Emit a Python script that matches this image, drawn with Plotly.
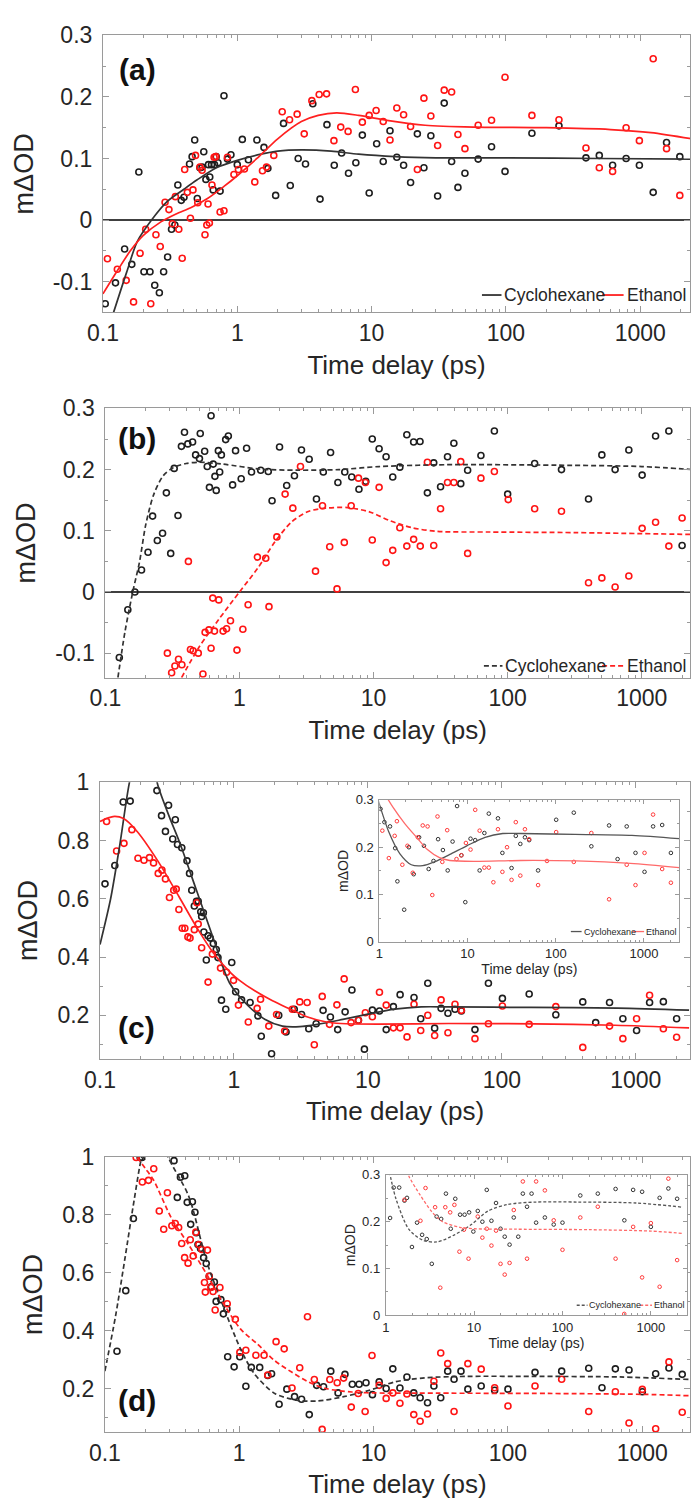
import plotly.graph_objects as go

# ---------------- data ----------------
# Panel (a): solid fits
a_cyc_t = [0.104,0.124,0.145,0.164,0.185,0.202,0.224,0.243,0.263,0.283,0.303,0.324,0.343,0.361,0.383,0.401,
           0.441,0.461,0.482,0.504,0.527,0.547,0.563,0.584,0.610,0.624,0.643,0.662,0.677,0.697,0.718,0.745,
           0.796,0.845,0.897,1.00,1.09,1.21,1.40,1.58,1.69,1.93,
           2.21,2.48,2.84,3.22,3.65,4.13,4.65,5.27,5.98,6.73,7.63,8.53,9.59,
           10.9,12.2,13.7,15.4,17.3,19.5,21.9,24.5,27.6,31.0,34.7,39.4,43.9,49.5,
           62.1,78.1,98.4,156,248,394,495,622,784,984,1247,1568,1968]
a_cyc_y = [-0.136,-0.102,-0.047,-0.072,0.078,-0.084,-0.084,-0.106,-0.118,-0.084,-0.060,-0.015,-0.008,0.057,0.032,0.037,
           0.091,0.103,0.130,0.035,0.085,0.086,0.111,0.066,0.090,0.070,0.090,0.049,0.090,0.103,0.093,0.047,
           0.202,0.099,0.106,0.090,0.131,0.098,0.130,0.118,0.084,0.040,
           0.157,0.056,0.100,0.091,0.189,0.034,0.155,0.089,0.109,0.076,0.093,0.138,0.044,
           0.124,0.095,0.145,0.102,0.089,0.061,0.140,0.085,0.137,0.039,0.190,0.095,0.053,0.076,
           0.099,0.119,0.079,0.141,0.153,0.101,0.105,0.089,0.100,0.089,0.045,0.126,0.103]
a_eth_t = [0.108,0.128,0.149,0.169,0.189,0.208,0.227,0.248,0.267,0.290,0.310,0.328,0.346,0.367,0.389,0.406,
           0.425,0.448,0.468,0.489,0.508,0.527,0.547,0.575,0.593,0.606,0.620,0.648,0.672,0.692,0.745,0.796,
           0.845,0.944,1.02,1.13,1.35,1.54,1.65,1.87,2.16,2.45,
           2.79,3.15,3.59,4.07,4.62,5.24,5.89,6.68,7.57,8.53,9.59,10.8,12.2,
           13.7,15.4,17.3,19.5,21.9,24.5,27.6,31.0,34.7,39.4,43.9,49.5,62.1,78.1,
           98.4,156,248,394,495,622,784,984,1247,1568,1968]
a_eth_y = [-0.063,-0.080,-0.098,-0.133,-0.054,-0.015,-0.136,-0.024,-0.043,0.029,0.017,-0.006,0.038,-0.015,-0.062,0.082,
           0.045,0.003,0.049,0.105,0.028,0.086,0.081,-0.024,-0.008,0.026,-0.005,0.057,0.102,0.103,0.013,0.015,
           0.102,0.074,0.082,0.083,0.062,0.080,0.086,0.105,0.176,0.163,
           0.172,0.140,0.194,0.204,0.205,0.129,0.151,0.144,0.212,0.159,0.170,0.178,0.160,
           0.130,0.182,0.171,0.152,0.082,0.198,0.169,0.121,0.211,0.208,0.139,0.116,0.154,0.162,
           0.232,0.170,0.163,0.117,0.085,0.079,0.150,0.129,0.262,0.116,0.040]
a_fit_cyc_t = [0.12,0.15,0.18,0.23,0.3,0.4,0.5,0.7,1.0,1.5,2.0,3.0,5.0,8.0,15,30,100,500,2400]
a_fit_cyc_y = [-0.15,-0.085,-0.035,0.0,0.03,0.05,0.065,0.085,0.097,0.107,0.112,0.114,0.112,0.107,0.103,0.101,0.101,0.100,0.099]
a_fit_eth_t = [0.1,0.13,0.16,0.2,0.27,0.35,0.45,0.6,0.8,1.0,1.4,2.0,3.0,4.0,5.5,8,13,25,60,200,600,1200,2400]
a_fit_eth_y = [-0.12,-0.08,-0.05,-0.025,-0.003,0.01,0.02,0.035,0.055,0.072,0.10,0.132,0.16,0.17,0.174,0.170,0.162,0.154,0.151,0.150,0.147,0.142,0.132]

# Panel (b): dashed fits
b_cyc_t = [0.127,0.147,0.166,0.186,0.208,0.225,0.244,0.267,0.285,0.307,0.326,0.348,0.369,0.389,0.412,0.447,
           0.471,0.503,0.51,0.55,0.575,0.597,0.614,0.637,0.656,0.671,0.696,0.712,0.733,0.789,0.826,0.889,
           0.935,1.03,1.13,1.23,1.44,1.64,1.75,1.99,2.25,2.57,
           2.9,3.31,3.75,4.22,4.78,5.42,6.1,6.87,7.78,8.75,9.78,11.0,12.4,
           13.9,15.7,17.7,19.9,22.2,25.2,28.1,31.6,35.6,39.7,44.7,50.3,63.2,79.6,
           100,159,252,401,504,633,801,1007,1268,1592,2000]
b_cyc_y = [-0.107,-0.029,0.0,0.036,0.065,0.124,0.084,0.096,0.162,0.063,0.202,0.125,0.238,0.261,0.242,0.245,
           0.224,0.218,0.259,0.230,0.205,0.171,0.288,0.209,0.189,0.166,0.231,0.196,0.224,0.249,0.255,0.175,
           0.231,0.185,0.235,0.196,0.199,0.197,0.149,0.237,0.174,0.190,
           0.232,0.217,0.152,0.196,0.228,0.179,0.196,0.188,0.168,0.181,0.250,0.234,0.221,
           0.188,0.204,0.257,0.245,0.246,0.162,0.211,0.172,0.221,0.243,0.177,0.199,0.223,0.263,
           0.160,0.210,0.200,0.152,0.224,0.200,0.232,0.191,0.255,0.263,0.076]
b_eth_t = [0.29,0.312,0.33,0.351,0.372,0.416,0.431,0.451,0.493,0.534,0.554,0.592,0.614,0.632,0.651,0.701,
           0.755,0.801,0.857,0.958,1.06,1.16,1.36,1.57,1.66,1.90,2.19,2.5,2.85,3.69,4.16,4.71,
           5.34,6.05,6.81,7.72,8.69,9.78,11.0,12.4,13.9,15.7,17.7,19.9,22.3,25.2,28.1,31.6,
           35.6,39.7,44.7,50.3,63.2,79.6,101,159,252,401,504,633,801,1007,1268,1592,2000]
b_eth_y = [-0.100,-0.132,-0.121,-0.110,-0.119,0.050,-0.094,-0.096,-0.100,-0.134,-0.066,-0.062,-0.092,-0.010,-0.064,-0.013,
           -0.064,-0.060,-0.047,-0.095,-0.061,-0.021,0.057,0.055,-0.024,0.090,0.160,0.137,0.205,0.034,0.141,0.074,
           0.005,0.081,0.141,0.186,0.179,0.085,0.171,0.048,0.068,0.105,0.075,0.086,0.075,0.212,0.076,0.136,
           0.179,0.179,0.213,0.063,0.186,0.197,0.151,0.136,0.132,0.015,0.023,0.008,0.026,0.104,0.114,0.075,0.121]
b_fit_cyc_t = [0.124,0.14,0.16,0.18,0.2,0.23,0.27,0.32,0.4,0.5,0.75,1.4,2.7,5.5,11,35,300,1000,2400]
b_fit_cyc_y = [-0.14,-0.065,0.0,0.05,0.11,0.16,0.19,0.203,0.21,0.212,0.209,0.201,0.199,0.200,0.205,0.208,0.207,0.205,0.200]
b_fit_eth_t = [0.37,0.5,0.7,1.0,1.37,1.84,2.46,3.3,4.4,6.4,9.3,13.4,19.4,30,73,320,2400]
b_fit_eth_y = [-0.14,-0.09,-0.045,0.0,0.039,0.082,0.115,0.132,0.137,0.138,0.131,0.116,0.105,0.099,0.098,0.097,0.094]

# Panel (c): solid fits (inset shows the same data for t >= 1 ps)
c_cyc_t = [0.109,0.129,0.149,0.168,0.266,0.288,0.308,0.325,0.349,0.365,0.379,0.408,0.446,0.466,0.484,0.506,
           0.525,0.541,0.565,0.574,0.591,0.596,0.622,0.641,0.665,0.701,0.738,0.760,0.807,0.869,0.963,
           1.03,1.14,1.32,1.51,1.6,1.91,2.16,2.45,2.82,3.2,3.62,4.11,4.63,5.25,5.95,6.76,7.6,8.5,9.42,
           10.8,12.2,13.7,15.5,17.4,22.1,24.8,28.0,31.5,35.2,39.6,44.7,49.9,63,79.4,
           101,160,253,402,502,637,801,1014,1268,1607,2018]
c_cyc_y = [0.651,0.714,0.932,0.935,0.971,0.885,0.831,0.921,0.805,0.871,0.786,0.775,0.730,0.687,0.629,0.575,
           0.591,0.591,0.555,0.539,0.552,0.486,0.390,0.473,0.465,0.446,0.426,0.398,0.252,0.221,0.381,
           0.281,0.253,0.244,0.198,0.128,0.068,0.200,0.143,0.221,0.203,0.154,0.171,0.217,0.194,0.151,0.212,0.287,0.183,0.084,
           0.218,0.215,0.151,0.230,0.271,0.261,0.188,0.310,0.156,0.224,0.207,0.221,0.215,0.151,0.310,
           0.258,0.273,0.202,0.246,0.175,0.244,0.188,0.148,0.244,0.247,0.188]
c_eth_t = [0.112,0.133,0.151,0.173,0.192,0.213,0.234,0.251,0.272,0.29,0.308,0.33,0.355,0.371,0.388,0.411,
           0.43,0.453,0.47,0.506,0.529,0.541,0.574,0.641,0.69,0.794,0.881,0.993,
           1.08,1.28,1.49,1.58,1.82,2.08,2.39,2.73,3.1,3.52,3.98,4.56,5.17,5.87,6.65,7.49,8.5,9.57,
           10.8,12.2,13.7,15.5,17.4,19.6,22.1,24.8,28.0,31.5,35.2,39.6,44.7,49.9,63,79.4,
           101,160,253,402,637,801,1014,1268,1607,2018]
c_eth_y = [0.865,0.764,0.790,0.837,0.739,0.732,0.741,0.723,0.687,0.698,0.668,0.604,0.629,0.633,0.563,0.499,
           0.499,0.469,0.465,0.494,0.586,0.513,0.432,0.314,0.410,0.362,0.348,0.320,
           0.235,0.177,0.224,0.255,0.163,0.203,0.146,0.221,0.246,0.244,0.099,0.265,0.169,0.236,0.325,0.175,0.183,0.209,
           0.195,0.279,0.235,0.157,0.157,0.126,0.238,0.148,0.200,0.131,0.253,0.140,0.238,0.217,0.120,0.171,
           0.232,0.169,0.230,0.090,0.163,0.120,0.188,0.269,0.154,0.125]
c_fit_cyc_t = [0.1,0.12,0.14,0.166,0.2,0.24,0.27,0.33,0.39,0.525,0.706,0.93,1.28,1.71,2.3,3.1,4.2,6.5,9.8,15.8,25,40,165,730,2500]
c_fit_cyc_y = [0.443,0.6,0.78,1.0,1.15,1.1,0.99,0.88,0.797,0.629,0.46,0.31,0.232,0.186,0.163,0.161,0.169,0.186,0.203,0.221,0.229,0.229,0.227,0.225,0.218]
c_fit_eth_t = [0.1,0.125,0.15,0.19,0.27,0.39,0.53,0.7,0.95,1.1,1.43,1.94,2.64,3.5,4.8,6.3,12,40,170,700,2500]
c_fit_eth_y = [0.865,0.882,0.875,0.83,0.73,0.606,0.5,0.415,0.345,0.32,0.284,0.25,0.221,0.195,0.178,0.172,0.17,0.172,0.171,0.166,0.157]

# Panel (d): dashed fits (inset shows the same data for t >= 1 ps)
d_cyc_t = [0.123,0.143,0.163,0.183,0.189,0.327,0.346,0.365,0.393,0.41,0.435,0.448,0.468,0.479,0.493,0.515,
           0.543,0.568,0.598,0.62,0.653,0.673,0.73,0.762,0.809,0.82,0.916,
           1.01,1.12,1.23,1.42,1.63,1.74,1.98,2.26,2.58,2.91,3.32,3.77,4.24,4.8,5.44,6.12,6.94,7.8,8.78,9.8,
           11.0,12.4,13.9,15.7,17.7,19.9,22.2,25.2,28.1,31.6,35.6,39.7,44.7,50.3,63.2,79.6,
           100,159,251,399,501,630,796,1000,1257,1578,1982]
d_cyc_y = [0.329,0.538,0.787,0.998,0.998,0.987,0.860,0.930,0.935,0.843,0.767,0.845,0.809,0.738,0.697,0.684,
           0.652,0.632,0.588,0.551,0.568,0.501,0.507,0.458,0.475,0.310,0.275,
           0.310,0.208,0.273,0.273,0.245,0.251,0.146,0.198,0.172,0.163,0.110,0.211,0.206,0.260,0.185,0.249,0.215,0.215,0.220,0.179,
           0.223,0.200,0.268,0.202,0.240,0.185,0.168,0.151,0.209,0.168,0.260,0.232,0.260,0.198,0.209,0.194,
           0.198,0.256,0.260,0.270,0.203,0.268,0.264,0.189,0.251,0.271,0.249]
d_eth_t = [0.171,0.19,0.211,0.231,0.254,0.274,0.292,0.315,0.334,0.354,0.373,0.392,0.416,0.432,0.454,0.475,
           0.5,0.527,0.551,0.559,0.58,0.598,0.615,0.638,0.662,0.718,0.814,0.935,
           1.01,1.12,1.33,1.53,1.63,1.88,2.16,2.47,2.82,3.22,3.62,4.14,4.72,5.36,5.98,6.82,7.68,8.65,9.73,
           11.0,12.4,13.9,15.7,17.7,19.9,22.2,25.2,28.1,31.6,35.6,39.7,50.3,63.2,79.6,
           100,159,251,399,500,630,796,1000,1257,1578,1982]
d_eth_y = [0.998,0.913,0.919,0.959,0.813,0.750,0.876,0.762,0.770,0.756,0.701,0.652,0.633,0.714,0.658,0.740,
           0.697,0.680,0.566,0.533,0.678,0.588,0.549,0.535,0.471,0.549,0.493,0.439,
           0.325,0.332,0.315,0.315,0.247,0.362,0.337,0.202,0.272,0.448,0.231,0.059,0.231,0.220,0.236,0.136,0.183,0.121,0.314,
           0.211,0.166,0.185,0.149,0.181,0.110,0.087,0.112,0.225,0.323,0.286,0.121,0.286,0.267,0.203,
           0.140,0.209,0.232,0.121,0.003,0.189,0.081,0.197,0.061,0.292,0.118]
d_fit_cyc_t = [0.1,0.12,0.14,0.165,0.188,0.22,0.26,0.295,0.42,0.57,0.76,1.02,1.3,1.84,2.66,3.84,6.0,9.3,14.4,24,50,150,680,2300]
d_fit_cyc_y = [0.26,0.45,0.64,0.85,1.0,1.1,1.08,1.0,0.865,0.641,0.484,0.338,0.25,0.183,0.16,0.157,0.172,0.194,0.223,0.237,0.242,0.242,0.24,0.231]
d_fit_eth_t = [0.16,0.2,0.23,0.314,0.42,0.57,0.76,1.02,1.37,1.84,2.47,3.3,4.4,6.9,10,30,200,1000,2300]
d_fit_eth_y = [1.02,0.96,0.92,0.787,0.697,0.596,0.495,0.406,0.353,0.296,0.256,0.222,0.200,0.188,0.185,0.184,0.183,0.180,0.175]

series_names = ["Cyclohexane", "Ethanol"]
x_ticks_main = [0.1, 1, 10, 100, 1000]
x_ticks_inset = [1, 10, 100, 1000]

# ---------------- styling ----------------
W, H = 691, 1510
FONT = "Liberation Sans, Arial, sans-serif"
TXT = "#262626"
FRAME = "#9a9a9a"
BLK = "#1e1e1e"
RED = "#ff1414"
FIT_BLK = "#333333"
FIT_RED = "#ff2020"
IN_BLK = "#555555"
IN_RED = "#ff6a6a"

def px_x(p):
    return p / W

def px_y(p):
    return 1 - p / H

minor_log = [m * 10 ** e for e in range(-1, 4) for m in range(2, 10)]

fig = go.Figure()

def add_data(xa, ya, t_c, y_c, t_e, y_e, ft_c, fy_c, ft_e, fy_e, dash, inset=False):
    if inset:
        pc = [(t, y) for t, y in zip(t_c, y_c) if t >= 1]
        pe = [(t, y) for t, y in zip(t_e, y_e) if t >= 1]
        t_c, y_c = [p[0] for p in pc], [p[1] for p in pc]
        t_e, y_e = [p[0] for p in pe], [p[1] for p in pe]
        fc = [(t, y) for t, y in zip(ft_c, fy_c) if t >= 0.9]
        fe = [(t, y) for t, y in zip(ft_e, fy_e) if t >= 0.9]
        ft_c, fy_c = [p[0] for p in fc], [p[1] for p in fc]
        ft_e, fy_e = [p[0] for p in fe], [p[1] for p in fe]
        msize, mlw, lw = 3.6, 1.0, 1.3
        lc_b, lc_r = IN_BLK, IN_RED
        mc_b, mc_r = "#333333", "#ff3a3a"
    else:
        msize, mlw, lw = 6, 1.6, 1.7
        lc_b, lc_r = FIT_BLK, FIT_RED
        mc_b, mc_r = BLK, RED
    for t, y, c in ((t_c, y_c, mc_b), (t_e, y_e, mc_r)):
        fig.add_trace(go.Scatter(x=t, y=y, mode="markers", xaxis=xa, yaxis=ya, showlegend=False,
                                 marker=dict(symbol="circle-open", size=msize, color=c, line=dict(width=mlw, color=c)),
                                 hoverinfo="skip"))
    for t, y, c, nm in ((ft_c, fy_c, lc_b, series_names[0]), (ft_e, fy_e, lc_r, series_names[1])):
        fig.add_trace(go.Scatter(x=t, y=y, mode="lines", xaxis=xa, yaxis=ya, name=nm, showlegend=False,
                                 line=dict(color=c, width=lw, dash=dash, shape="spline", smoothing=0.8)))

add_data("x", "y", a_cyc_t, a_cyc_y, a_eth_t, a_eth_y, a_fit_cyc_t, a_fit_cyc_y, a_fit_eth_t, a_fit_eth_y, "solid")
add_data("x2", "y2", b_cyc_t, b_cyc_y, b_eth_t, b_eth_y, b_fit_cyc_t, b_fit_cyc_y, b_fit_eth_t, b_fit_eth_y, "5px,3px")
add_data("x3", "y3", c_cyc_t, c_cyc_y, c_eth_t, c_eth_y, c_fit_cyc_t, c_fit_cyc_y, c_fit_eth_t, c_fit_eth_y, "solid")
add_data("x4", "y4", c_cyc_t, c_cyc_y, c_eth_t, c_eth_y, c_fit_cyc_t, c_fit_cyc_y, c_fit_eth_t, c_fit_eth_y, "solid", inset=True)
add_data("x5", "y5", d_cyc_t, d_cyc_y, d_eth_t, d_eth_y, d_fit_cyc_t, d_fit_cyc_y, d_fit_eth_t, d_fit_eth_y, "5px,3px")
add_data("x6", "y6", d_cyc_t, d_cyc_y, d_eth_t, d_eth_y, d_fit_cyc_t, d_fit_cyc_y, d_fit_eth_t, d_fit_eth_y, "3px,2px", inset=True)

def xaxis(x0, x1, y_anchor, rng, inset=False):
    fs = 13 if inset else 23
    return dict(type="log", domain=[px_x(x0), px_x(x1)], anchor=y_anchor, range=rng,
                showline=True, linecolor=FRAME, linewidth=1, mirror="ticks",
                ticks="inside", ticklen=4 if inset else 6, tickcolor=FRAME, tickwidth=1,
                tickvals=x_ticks_inset if inset else x_ticks_main,
                ticktext=[str(v) for v in (x_ticks_inset if inset else x_ticks_main)],
                minor=dict(tickvals=minor_log, ticks="inside", ticklen=2 if inset else 3, tickcolor=FRAME),
                showgrid=False, zeroline=False,
                tickfont=dict(family=FONT, size=fs, color=TXT),
                ticklabelstandoff=0,
                title=dict(text="Time delay (ps)", font=dict(family=FONT, size=14 if inset else 26, color=TXT),
                           standoff=2 if inset else 10))

def yaxis(y0, y1, x_anchor, rng, tv, tt, minor_dt, zero=False, inset=False):
    fs = 13 if inset else 23
    return dict(domain=[px_y(y1), px_y(y0)], anchor=x_anchor, range=rng,
                showline=True, linecolor=FRAME, linewidth=1, mirror="ticks",
                ticks="inside", ticklen=4 if inset else 6, tickcolor=FRAME, tickwidth=1,
                tickvals=tv, ticktext=tt,
                minor=dict(dtick=minor_dt, ticks="inside", ticklen=2 if inset else 3, tickcolor=FRAME),
                showgrid=False, zeroline=zero, zerolinecolor="#404040", zerolinewidth=2,
                tickfont=dict(family=FONT, size=fs, color=TXT),
                ticklabelstandoff=2 if inset else 5,
                title=dict(text="m\u0394OD", font=dict(family=FONT, size=14 if inset else 27, color=TXT),
                           standoff=3 if inset else 11))

ab_tv = [-0.1, 0, 0.1, 0.2, 0.3]
ab_tt = ["-0.1", "0", "0.1", "0.2", "0.3"]
cd_tv = [0.2, 0.4, 0.6, 0.8, 1]
cd_tt = ["0.2", "0.4", "0.6", "0.8", "1"]
in_tv = [0, 0.1, 0.2, 0.3]
in_tt = ["0", "0.1", "0.2", "0.3"]

layout = dict(
    width=W, height=H, margin=dict(l=0, r=0, t=0, b=0),
    paper_bgcolor="white", plot_bgcolor="white", showlegend=False,
    font=dict(family=FONT, color=TXT),
    xaxis=xaxis(89, 690, "y", [-1, 3.37]),
    yaxis=yaxis(22.7, 303.6, "x", [-0.15, 0.3], ab_tv, ab_tt, 0.05, zero=True),
    xaxis2=xaxis(91.5, 690, "y2", [-1, 3.36]),
    yaxis2=yaxis(401, 674, "x2", [-0.14, 0.3], ab_tv, ab_tt, 0.05, zero=True),
    xaxis3=xaxis(86, 690, "y3", [-1, 3.405]),
    yaxis3=yaxis(780, 1060.8, "x3", [0.05, 1], cd_tv, cd_tt, 0.1),
    xaxis4=xaxis(372, 679, "y4", [0, 3.4], inset=True),
    yaxis4=yaxis(798, 942, "x4", [0, 0.3], in_tv, in_tt, 0.05, inset=True),
    xaxis5=xaxis(91, 690, "y5", [-1, 3.355]),
    yaxis5=yaxis(1160, 1439, "x5", [0.05, 1], cd_tv, cd_tt, 0.1),
    xaxis6=xaxis(378.5, 687, "y6", [0, 3.41], inset=True),
    yaxis6=yaxis(1178.3, 1320.7, "x6", [0, 0.3], in_tv, in_tt, 0.05, inset=True),
)

# ---- legends (short line samples followed by labels, as in the original) ----
shapes = []
annotations = []

def legend_row(y, entries, fs, lw):
    for (x0, x1, color, dash), (tx, label) in entries:
        shapes.append(dict(type="line", xref="paper", yref="paper", x0=px_x(x0), x1=px_x(x1),
                           y0=px_y(y), y1=px_y(y), line=dict(color=color, width=lw, dash=dash)))
        annotations.append(dict(text=label, x=px_x(tx), y=px_y(y), xref="paper", yref="paper",
                                xanchor="left", yanchor="middle", showarrow=False,
                                font=dict(family=FONT, size=fs, color=TXT)))

legend_row(286, [((477, 497, FIT_BLK, "solid"), (498, series_names[0])),
                 ((600, 622, FIT_RED, "solid"), (623, series_names[1]))], 17.5, 1.8)
legend_row(662, [((479, 498, FIT_BLK, "5px,3px"), (499, series_names[0])),
                 ((600, 622, FIT_RED, "5px,3px"), (623, series_names[1]))], 17.5, 1.8)
legend_row(931.5, [((568, 579, IN_BLK, "solid"), (579, series_names[0])),
                   ((631, 643, IN_RED, "solid"), (643, series_names[1]))], 9, 1.3)
legend_row(1310.5, [((574, 585, IN_BLK, "3px,2px"), (585, series_names[0])),
                    ((639, 651, IN_RED, "3px,2px"), (651, series_names[1]))], 9, 1.3)

labels = [("(a)", 124, 57), ("(b)", 124, 432), ("(c)", 123, 1029), ("(d)", 124, 1407)]
for s, x, y in labels:
    annotations.append(dict(text="<b>%s</b>" % s, x=px_x(x), y=px_y(y), xref="paper", yref="paper",
                            xanchor="center", yanchor="middle", showarrow=False,
                            font=dict(family=FONT, size=30, color="#111111")))

layout["shapes"] = shapes
layout["annotations"] = annotations

fig.update_layout(**layout)
fig.write_html("out.html", post_script="document.body.style.margin='0';")
